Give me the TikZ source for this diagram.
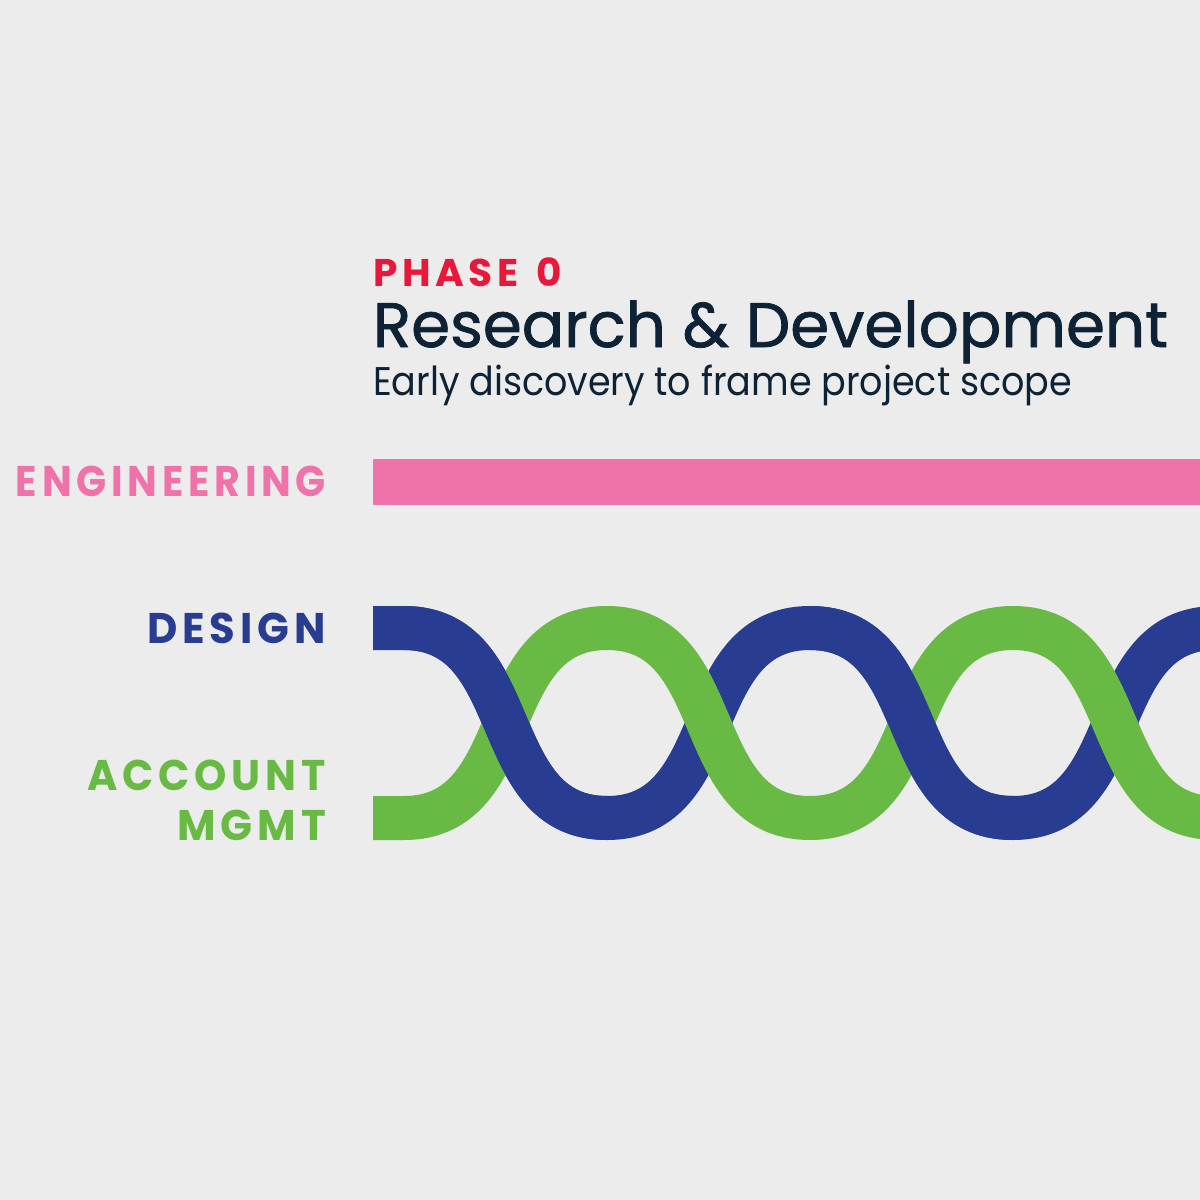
\documentclass[tikz,border=0pt]{standalone}
\usepackage{fontspec}
\newfontfamily\pop{Poppins}
\newfontfamily\poptitle{Poppins}[FakeBold=1.2]
\newfontfamily\poplab{Poppins}[LetterSpace=12]
\definecolor{bgc}{HTML}{ECECEC}
\definecolor{pinkc}{HTML}{EF72A9}
\definecolor{bluec}{HTML}{283D92}
\definecolor{greenc}{HTML}{69BA45}
\definecolor{redc}{HTML}{E8183A}
\definecolor{navyc}{HTML}{0E2236}
\newsavebox\fitbox
\newcommand\fitw[2]{\sbox\fitbox{#2}\pgfmathsetmacro\fitr{#1/\the\wd\fitbox}\scalebox{\fitr}[1]{\usebox\fitbox}}
\begin{document}
\begin{tikzpicture}[x=1pt,y=-1pt,
  txt/.style={inner sep=0pt,outer sep=0pt},
  lab/.style={txt,anchor=base east},
  band/.style={line width=44pt,line cap=butt}]
\fill[bgc] (0,0) rectangle (1200,1200);
\useasboundingbox (0,0) rectangle (1200,1200);
% headings
\node[txt,anchor=base west,text=redc] (phase) at (373,286)
  {\fitw{189}{\poplab\bfseries\fontsize{38.6}{40}\selectfont PHASE \hspace{5pt}0}};
\node[txt,anchor=base west,text=navyc] (title) at (373,347)
  {\fitw{795}{\poptitle\fontsize{62.9}{66}\selectfont Research \& Development}};
\node[txt,anchor=base west,text=navyc] (sub) at (373,395)
  {\fitw{699}{\pop\fontsize{40}{42}\selectfont Early discovery to frame project scope}};
% labels
\node[lab,text=pinkc] (eng) at (326,496)
  {\fitw{310}{\poplab\bfseries\fontsize{42.9}{44}\selectfont ENGINEERING}};
\node[lab,text=bluec] (des) at (326,643)
  {\fitw{179}{\poplab\bfseries\fontsize{42.9}{44}\selectfont DESIGN}};
\node[lab,text=greenc] (acc) at (326,790)
  {\fitw{239}{\poplab\bfseries\fontsize{42.9}{44}\selectfont ACCOUNT}};
\node[lab,text=greenc] (mgmt) at (326,840)
  {\fitw{149}{\poplab\bfseries\fontsize{42.9}{44}\selectfont MGMT}};
% engineering bar
\fill[pinkc] (373,459) rectangle (1200,505);
% braided bands
\begin{scope}
\clip (373,0) rectangle (1200,1200);
\draw[band,bluec] (373,628) -- (404,628)
  .. controls (526,628) and (485,818) .. (607,818)
  .. controls (729,818) and (688,628) .. (810,628)
  .. controls (932,628) and (891,818) .. (1013,818)
  .. controls (1135,818) and (1094,628) .. (1216,628)
  .. controls (1338,628) and (1297,818) .. (1419,818);
\draw[band,greenc] (373,818) -- (404,818)
  .. controls (526,818) and (485,628) .. (607,628)
  .. controls (729,628) and (688,818) .. (810,818)
  .. controls (932,818) and (891,628) .. (1013,628)
  .. controls (1135,628) and (1094,818) .. (1216,818)
  .. controls (1338,818) and (1297,628) .. (1419,628);
\draw[band,bluec] (404,628) .. controls (526,628) and (485,818) .. (607,818);
\draw[band,bluec] (810,628) .. controls (932,628) and (891,818) .. (1013,818);
\end{scope}
\end{tikzpicture}
\end{document}
